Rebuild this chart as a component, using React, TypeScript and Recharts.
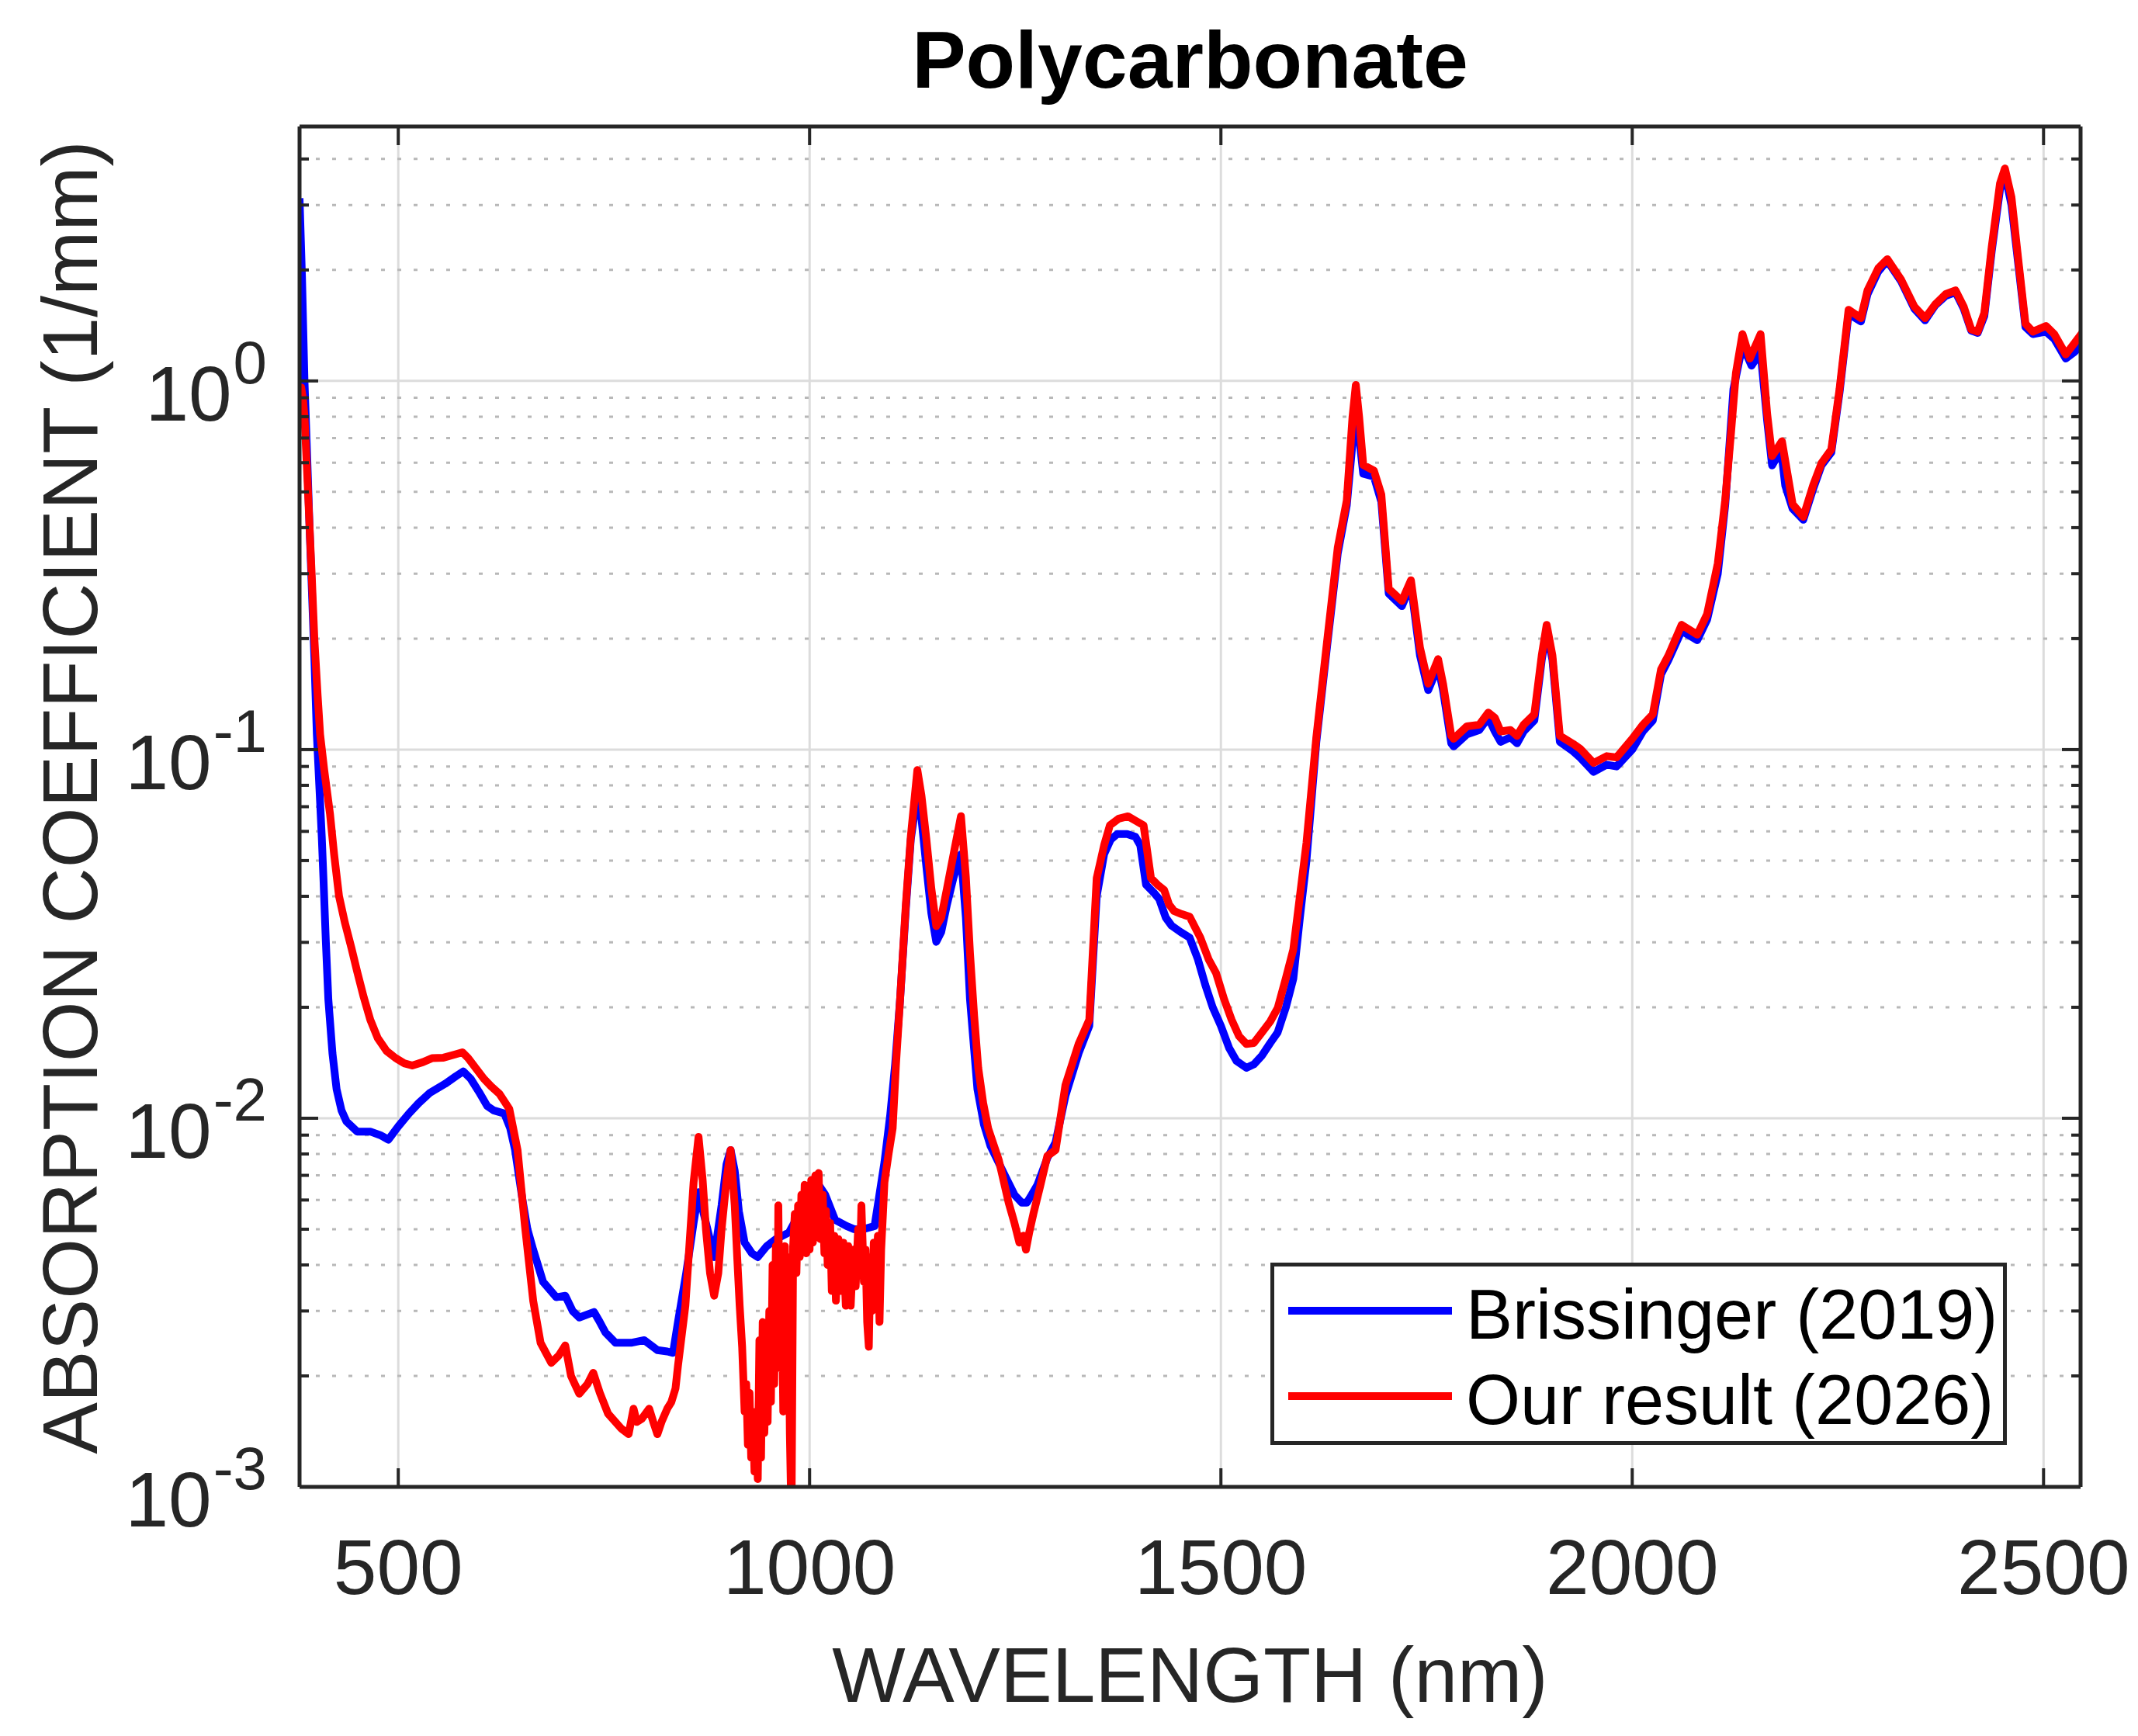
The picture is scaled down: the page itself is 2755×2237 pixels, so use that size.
import React from 'react';
import { LineChart, Line, XAxis, YAxis, CartesianGrid, Legend, Label } from 'recharts';

// ---------- data: [wavelength nm, absorption 1/mm] ----------
const brissingerPoints: [number, number][] = [
  [380, 3.13], [383, 1.9], [386, 1.0], [389, 0.65], [392, 0.41], [395, 0.27], [398, 0.178], [401, 0.11],
  [404, 0.08], [407, 0.058], [409, 0.045], [412, 0.03], [415, 0.021], [420, 0.015], [425, 0.012], [431, 0.0105],
  [437, 0.0098], [450, 0.0092], [466, 0.0092], [478, 0.009], [488, 0.00875], [500, 0.0095], [513, 0.0103],
  [525, 0.011], [538, 0.0117], [557, 0.0124], [570, 0.013], [579, 0.0134], [588, 0.0128], [598, 0.0118],
  [608, 0.0108], [616, 0.0105], [629, 0.0103], [636, 0.0094], [642, 0.0082], [651, 0.006], [657, 0.005],
  [664, 0.0044], [676, 0.0036], [692, 0.00327], [703, 0.0033], [712, 0.003], [720, 0.00288], [738, 0.00298],
  [745, 0.0028], [752, 0.00262], [764, 0.00246], [783, 0.00246], [799, 0.0025], [815, 0.00235], [827, 0.00233],
  [834, 0.00231], [840, 0.0028], [850, 0.0038], [859, 0.0052], [865, 0.0063], [874, 0.0052], [884, 0.0042],
  [893, 0.0058], [899, 0.0075], [904, 0.0082], [909, 0.0072], [914, 0.0056], [921, 0.0046], [930, 0.0043],
  [937, 0.0042], [948, 0.0045], [959, 0.0047], [975, 0.0049], [991, 0.0057], [1000, 0.0062], [1009, 0.0067],
  [1019, 0.0062], [1031, 0.0053], [1045, 0.0051], [1054, 0.005], [1065, 0.005], [1079, 0.0051], [1091, 0.0076],
  [1098, 0.0102], [1104, 0.014], [1110, 0.021], [1117, 0.037], [1123, 0.057], [1131, 0.076], [1136, 0.065],
  [1142, 0.048], [1148, 0.036], [1154, 0.0301], [1160, 0.032], [1167, 0.038], [1175, 0.045], [1184, 0.052],
  [1190, 0.035], [1195, 0.021], [1204, 0.012], [1212, 0.0096], [1220, 0.0084], [1236, 0.0071], [1249, 0.0062],
  [1258, 0.0059], [1264, 0.0059], [1270, 0.0062], [1277, 0.0066], [1289, 0.0078], [1299, 0.0086], [1311, 0.0115],
  [1327, 0.015], [1340, 0.0178], [1349, 0.04], [1358, 0.052], [1366, 0.057], [1374, 0.059], [1386, 0.059],
  [1396, 0.058], [1402, 0.055], [1409, 0.043], [1418, 0.041], [1425, 0.0393], [1433, 0.035], [1440, 0.0333],
  [1451, 0.032], [1462, 0.0309], [1472, 0.027], [1481, 0.023], [1490, 0.02], [1500, 0.0178], [1510, 0.0155],
  [1519, 0.0143], [1531, 0.0137], [1540, 0.014], [1550, 0.0148], [1560, 0.016], [1569, 0.0171], [1579, 0.02],
  [1588, 0.0239], [1596, 0.035], [1604, 0.05], [1616, 0.105], [1629, 0.19], [1642, 0.34], [1653, 0.46],
  [1664, 0.85], [1673, 0.56], [1686, 0.55], [1695, 0.47], [1704, 0.265], [1720, 0.245], [1731, 0.28],
  [1742, 0.18], [1752, 0.145], [1764, 0.168], [1770, 0.145], [1780, 0.104], [1783, 0.102], [1799, 0.11],
  [1814, 0.113], [1825, 0.122], [1833, 0.112], [1840, 0.105], [1852, 0.108], [1860, 0.104], [1868, 0.112],
  [1881, 0.12], [1890, 0.175], [1896, 0.21], [1903, 0.175], [1912, 0.105], [1928, 0.099], [1937, 0.095],
  [1953, 0.087], [1969, 0.091], [1981, 0.09], [2000, 0.1], [2013, 0.112], [2025, 0.12], [2035, 0.16],
  [2044, 0.175], [2060, 0.21], [2079, 0.198], [2091, 0.225], [2104, 0.3], [2113, 0.46], [2123, 0.95],
  [2134, 1.25], [2145, 1.1], [2156, 1.2], [2164, 0.78], [2170, 0.59], [2181, 0.65], [2186, 0.52],
  [2195, 0.45], [2208, 0.42], [2220, 0.51], [2230, 0.59], [2242, 0.64], [2252, 0.93], [2263, 1.52],
  [2278, 1.45], [2286, 1.72], [2299, 1.98], [2310, 2.12], [2327, 1.86], [2343, 1.57], [2356, 1.46],
  [2368, 1.6], [2381, 1.7], [2393, 1.74], [2403, 1.57], [2412, 1.37], [2420, 1.35], [2428, 1.5],
  [2437, 2.25], [2447, 3.3], [2453, 3.65], [2461, 3.0], [2469, 2.1], [2478, 1.4], [2487, 1.34],
  [2503, 1.36], [2513, 1.3], [2527, 1.15], [2538, 1.2], [2548, 1.27],
];

const oursPoints: [number, number][] = [
  [380, 0.89], [382, 0.96], [384, 0.9], [386, 0.8], [389, 0.58], [392, 0.41], [395, 0.29], [398, 0.2],
  [402, 0.14], [405, 0.11], [410, 0.088], [417, 0.067], [422, 0.052], [428, 0.04], [435, 0.034], [443, 0.029],
  [450, 0.025], [458, 0.0213], [466, 0.0185], [475, 0.0165], [486, 0.0152], [497, 0.01455], [507, 0.0141],
  [517, 0.0139], [530, 0.0142], [541, 0.01455], [555, 0.0146], [569, 0.0149], [578, 0.0151], [585, 0.01455],
  [595, 0.0136], [604, 0.0128], [613, 0.0122], [623, 0.01165], [635, 0.0106], [645, 0.0082], [654, 0.0051],
  [664, 0.0032], [673, 0.00246], [686, 0.00217], [695, 0.00227], [703, 0.00242], [710, 0.002], [720, 0.00179],
  [730, 0.0019], [737, 0.00204], [745, 0.0018], [755, 0.00158], [771, 0.00144], [780, 0.00139], [786, 0.00163],
  [790, 0.0015], [796, 0.00153], [805, 0.00163], [810, 0.0015], [815, 0.00139], [820, 0.0015], [827, 0.00163],
  [832, 0.0017], [837, 0.00185], [840, 0.00213], [849, 0.0031], [859, 0.0067], [865, 0.0089], [870, 0.0068],
  [874, 0.005], [879, 0.0038], [884, 0.0033], [889, 0.0038], [893, 0.005], [899, 0.0068], [904, 0.0082],
  [909, 0.0058], [912, 0.0042], [915, 0.0031], [918, 0.0024], [921, 0.0016], [923, 0.0019], [925, 0.0013],
  [927, 0.0018], [929, 0.0012], [931, 0.0016], [933, 0.0011], [935, 0.0015], [937, 0.00105], [939, 0.0025],
  [941, 0.0012], [943, 0.0028], [945, 0.0014], [947, 0.0022], [949, 0.0015], [951, 0.003], [953, 0.0017],
  [955, 0.004], [957, 0.0019], [959, 0.0045], [961, 0.0028], [962, 0.0058], [964, 0.0021], [966, 0.004],
  [968, 0.0016], [970, 0.0045], [972, 0.0019], [974, 0.0042], [976, 0.0014], [978, 0.0008], [980, 0.0045],
  [982, 0.0055], [984, 0.0038], [986, 0.0058], [988, 0.0042], [990, 0.0062], [992, 0.0045], [994, 0.0066],
  [996, 0.0043], [998, 0.0065], [1000, 0.0044], [1002, 0.0068], [1004, 0.0046], [1007, 0.007], [1009, 0.0048],
  [1011, 0.0071], [1013, 0.0047], [1016, 0.0062], [1018, 0.0043], [1020, 0.0056], [1022, 0.004], [1025, 0.0052],
  [1027, 0.0034], [1030, 0.0048], [1032, 0.0032], [1035, 0.0047], [1038, 0.0034], [1041, 0.0046], [1044, 0.0031],
  [1047, 0.0045], [1050, 0.0031], [1053, 0.0044], [1056, 0.0035], [1059, 0.005], [1061, 0.0038], [1063, 0.0058],
  [1066, 0.0036], [1068, 0.0044], [1070, 0.0028], [1072, 0.0024], [1074, 0.0042], [1076, 0.003], [1078, 0.0046],
  [1080, 0.0033], [1083, 0.0048], [1085, 0.0028], [1087, 0.0044], [1089, 0.0054], [1091, 0.0067], [1096, 0.008],
  [1101, 0.0094], [1105, 0.014], [1110, 0.021], [1117, 0.038], [1123, 0.058], [1131, 0.088], [1136, 0.075],
  [1142, 0.057], [1148, 0.042], [1154, 0.0332], [1160, 0.035], [1167, 0.042], [1175, 0.052], [1184, 0.066],
  [1190, 0.045], [1195, 0.028], [1200, 0.019], [1205, 0.0137], [1211, 0.011], [1217, 0.0094], [1230, 0.0077],
  [1242, 0.0059], [1249, 0.0052], [1255, 0.0046], [1260, 0.0048], [1263, 0.0044], [1267, 0.0049], [1272, 0.0055],
  [1280, 0.0065], [1289, 0.0079], [1299, 0.0082], [1311, 0.0123], [1327, 0.0159], [1340, 0.0185], [1349, 0.0448],
  [1358, 0.055], [1365, 0.0623], [1376, 0.065], [1387, 0.0659], [1397, 0.064], [1406, 0.0623], [1415, 0.0448],
  [1423, 0.043], [1431, 0.0416], [1437, 0.038], [1443, 0.0365], [1452, 0.0358], [1462, 0.0352], [1475, 0.0309],
  [1485, 0.027], [1494, 0.0248], [1504, 0.021], [1513, 0.0185], [1522, 0.0167], [1531, 0.0159], [1540, 0.016],
  [1550, 0.0171], [1560, 0.0183], [1569, 0.0199], [1579, 0.024], [1588, 0.0287], [1596, 0.04], [1604, 0.0558],
  [1616, 0.108], [1629, 0.196], [1642, 0.353], [1653, 0.474], [1660, 0.8], [1664, 0.975], [1668, 0.8],
  [1673, 0.592], [1686, 0.571], [1695, 0.492], [1704, 0.273], [1720, 0.253], [1731, 0.288], [1742, 0.189],
  [1752, 0.151], [1764, 0.176], [1770, 0.151], [1780, 0.109], [1783, 0.107], [1799, 0.1156], [1814, 0.1168],
  [1825, 0.126], [1833, 0.122], [1840, 0.112], [1852, 0.113], [1860, 0.109], [1868, 0.1168], [1881, 0.1247],
  [1890, 0.18], [1896, 0.218], [1903, 0.18], [1912, 0.109], [1928, 0.1037], [1937, 0.1004], [1953, 0.092],
  [1969, 0.096], [1981, 0.0952], [2000, 0.107], [2013, 0.1168], [2025, 0.1247], [2035, 0.165], [2044, 0.18],
  [2060, 0.218], [2079, 0.205], [2091, 0.233], [2104, 0.32], [2113, 0.475], [2120, 0.72], [2126, 1.05],
  [2134, 1.34], [2143, 1.15], [2156, 1.34], [2164, 0.815], [2170, 0.625], [2182, 0.686], [2195, 0.463],
  [2208, 0.428], [2220, 0.522], [2230, 0.598], [2242, 0.652], [2252, 0.95], [2263, 1.56], [2278, 1.48],
  [2286, 1.76], [2299, 2.02], [2310, 2.14], [2327, 1.88], [2343, 1.59], [2356, 1.48], [2368, 1.61],
  [2381, 1.72], [2393, 1.76], [2403, 1.59], [2412, 1.38], [2420, 1.36], [2428, 1.53], [2437, 2.31],
  [2447, 3.43], [2453, 3.77], [2461, 3.15], [2469, 2.16], [2478, 1.43], [2487, 1.36], [2503, 1.41],
  [2513, 1.34], [2527, 1.18], [2538, 1.27], [2548, 1.36],
];

const seriesNames = ['Brissinger (2019)', 'Our result (2026)'];
const xTicks = [500, 1000, 1500, 2000, 2500];
const yDecades = [0.001, 0.01, 0.1, 1];
const yMinor = [
  0.002, 0.003, 0.004, 0.005, 0.006, 0.007, 0.008, 0.009,
  0.02, 0.03, 0.04, 0.05, 0.06, 0.07, 0.08, 0.09,
  0.2, 0.3, 0.4, 0.5, 0.6, 0.7, 0.8, 0.9,
  2, 3, 4,
];
const xDomain = [380, 2545];
const yDomain = [0.001, 4.9];

// ---------- styling ----------
const AXIS = '#262626';
const FONT = '"Liberation Sans", Arial, Helvetica, sans-serif';
const TICK_FS = 100;
const SUP_FS = 78;
const LINE_W = 10;

const brissinger = brissingerPoints.map(([w, a]) => ({ w, a }));
const ours = oursPoints.map(([w, a]) => ({ w, a }));
const yAllTicks = [...yDecades, ...yMinor].sort((a, b) => a - b);

const isDecade = (v: number) => {
  const l = Math.log10(v);
  return Math.abs(l - Math.round(l)) < 1e-6;
};
const supWidth = (s: string) =>
  s.split('').reduce((acc, c) => acc + (c === '-' ? 0.333 : 0.556), 0) * SUP_FS;

const LeftTick = (props: any) => {
  const { x, y, payload } = props;
  const v = payload.value;
  const major = isDecade(v);
  const exp = String(Math.round(Math.log10(v)));
  const endX = x - 42;
  const sw = supWidth(exp);
  return (
    <g>
      <line x1={x} x2={x + (major ? 24 : 12)} y1={y} y2={y} stroke={AXIS} strokeWidth={4} />
      {major && (
        <g fontFamily={FONT} fill={AXIS}>
          <text x={endX - sw - 2} y={y + 51} textAnchor="end" fontSize={TICK_FS}>10</text>
          <text x={endX} y={y + 3} textAnchor="end" fontSize={SUP_FS}>{exp}</text>
        </g>
      )}
    </g>
  );
};

const RightTick = (props: any) => {
  const { x, y, payload } = props;
  const major = isDecade(payload.value);
  return <line x1={x} x2={x - (major ? 24 : 12)} y1={y} y2={y} stroke={AXIS} strokeWidth={4} />;
};

const BottomTick = (props: any) => {
  const { x, y, payload } = props;
  return (
    <g>
      <line x1={x} x2={x} y1={y} y2={y - 24} stroke={AXIS} strokeWidth={4} />
      <text x={x} y={y + 138} textAnchor="middle" fontSize={TICK_FS} fontFamily={FONT} fill={AXIS}>
        {payload.value}
      </text>
    </g>
  );
};

const TopTick = (props: any) => {
  const { x, y } = props;
  return <line x1={x} x2={x} y1={y} y2={y + 24} stroke={AXIS} strokeWidth={4} />;
};

const XLabel = (props: any) => {
  const vb = props.viewBox;
  return (
    <text x={vb.x + vb.width / 2} y={vb.y + 277} textAnchor="middle" fontSize={100} fontFamily={FONT} fill={AXIS}>
      WAVELENGTH (nm)
    </text>
  );
};

const TitleLabel = (props: any) => {
  const vb = props.viewBox;
  return (
    <text x={vb.x + vb.width / 2} y={vb.y - 49} textAnchor="middle" fontSize={104} fontWeight="bold" fontFamily={FONT} fill="#000">
      Polycarbonate
    </text>
  );
};

const YLabel = (props: any) => {
  const vb = props.viewBox;
  const cx = vb.x - 260;
  const cy = vb.y + vb.height / 2 - 12;
  return (
    <text x={cx} y={cy} transform={`rotate(-90, ${cx}, ${cy})`} textAnchor="middle" fontSize={100} fontFamily={FONT} fill={AXIS}>
      ABSORPTION COEFFICIENT (1/mm)
    </text>
  );
};

const renderLegend = (props: any) => {
  const payload = props.payload || [];
  return (
    <svg width={949} height={235} style={{ display: 'block' }}>
      <rect x={2.5} y={2.5} width={944} height={230} fill="#fff" stroke={AXIS} strokeWidth={5} />
      {payload.map((p: any, i: number) => (
        <g key={i}>
          <line x1={23} x2={234} y1={62 + i * 110} y2={62 + i * 110} stroke={p.color} strokeWidth={LINE_W} />
          <text x={252} y={98 + i * 110} fontSize={90} fontFamily={FONT} fill="#000">
            {p.value}
          </text>
        </g>
      ))}
    </svg>
  );
};

export default function App() {
  return (
    <div style={{ position: 'absolute', left: 0, top: 0, width: 2755, height: 2237, background: '#fff' }}>
      <LineChart width={2755} height={2237} margin={{ top: 162, right: 73, bottom: 320, left: 385 }}>
        <CartesianGrid
          xAxisId="b"
          yAxisId="l"
          horizontalValues={yDecades.slice(1)}
          verticalValues={xTicks}
          stroke="#dcdcdc"
          strokeWidth={3}
        />
        <CartesianGrid
          xAxisId="b"
          yAxisId="l"
          horizontalValues={yMinor}
          vertical={false}
          stroke="#b8b8b8"
          strokeWidth={3}
          strokeDasharray="5 16"
        />
        <XAxis
          xAxisId="b"
          type="number"
          dataKey="w"
          domain={xDomain}
          allowDataOverflow
          ticks={xTicks}
          interval={0}
          height={1}
          tickSize={0}
          tickMargin={0}
          tickLine={false}
          axisLine={{ stroke: AXIS, strokeWidth: 5 }}
          tick={BottomTick}
        >
          <Label content={XLabel} />
        </XAxis>
        <XAxis
          xAxisId="t"
          orientation="top"
          type="number"
          dataKey="w"
          domain={xDomain}
          allowDataOverflow
          ticks={xTicks}
          interval={0}
          height={1}
          tickSize={0}
          tickMargin={0}
          tickLine={false}
          axisLine={{ stroke: AXIS, strokeWidth: 5 }}
          tick={TopTick}
        >
          <Label content={TitleLabel} />
        </XAxis>
        <YAxis
          yAxisId="l"
          type="number"
          scale="log"
          domain={yDomain}
          allowDataOverflow
          ticks={yAllTicks}
          interval={0}
          width={1}
          tickSize={0}
          tickMargin={0}
          tickLine={false}
          axisLine={{ stroke: AXIS, strokeWidth: 5 }}
          tick={LeftTick}
        >
          <Label content={YLabel} />
        </YAxis>
        <YAxis
          yAxisId="r"
          orientation="right"
          type="number"
          scale="log"
          domain={yDomain}
          allowDataOverflow
          ticks={yAllTicks}
          interval={0}
          width={1}
          tickSize={0}
          tickMargin={0}
          tickLine={false}
          axisLine={{ stroke: AXIS, strokeWidth: 5 }}
          tick={RightTick}
        />
        <Legend
          layout="vertical"
          align="center"
          verticalAlign="middle"
          content={renderLegend}
          wrapperStyle={{ left: 1637, top: 1627, width: 949, height: 235 }}
        />
        <Line
          xAxisId="b"
          yAxisId="l"
          data={brissinger}
          dataKey="a"
          name={seriesNames[0]}
          stroke="#0000ff"
          strokeWidth={LINE_W}
          dot={false}
          strokeLinejoin="round"
          isAnimationActive={false}
        />
        <Line
          xAxisId="b"
          yAxisId="l"
          data={ours}
          dataKey="a"
          name={seriesNames[1]}
          stroke="#ff0000"
          strokeWidth={LINE_W}
          dot={false}
          strokeLinejoin="round"
          isAnimationActive={false}
        />
      </LineChart>
    </div>
  );
}
